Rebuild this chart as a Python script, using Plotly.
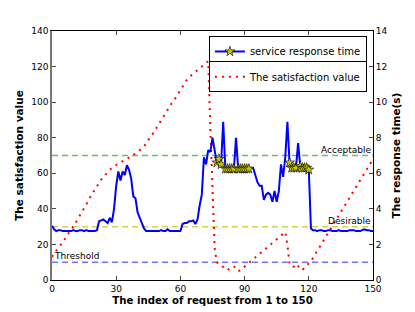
import plotly.graph_objects as go

# index of request
idx = list(range(0, 151))

# service response time (s), right axis
response_time = [
    3.05, 2.85, 2.75, 2.8, 2.8, 2.75, 2.75, 2.75, 2.75, 2.75,
    2.8, 2.75, 2.75, 2.8, 2.8, 2.75, 2.8, 2.75, 2.75, 2.75,
    2.75, 2.8, 3.3, 3.35, 3.4, 3.3, 3.2, 3.5, 3.25, 4.0,
    5.3, 6.1, 5.6, 6.1, 5.9, 6.45, 6.2, 5.7, 4.7, 4.6,
    3.8, 3.5, 3.2, 2.9, 2.75, 2.75, 2.75, 2.75, 2.75, 2.75,
    2.75, 2.8, 2.75, 2.75, 2.85, 2.75, 2.75, 2.75, 2.75, 2.75,
    2.75, 3.15, 3.2, 3.2, 3.3, 3.3, 3.35, 3.15, 3.4, 4.2,
    4.8, 6.9, 6.5, 7.3, 7.2, 8.0, 7.4, 6.6, 6.8, 6.5,
    8.9, 6.25, 6.25, 6.25, 6.25, 6.25, 8.0, 6.25, 6.25, 6.25,
    6.25, 6.25, 6.25, 6.3, 6.3, 5.9, 5.5, 5.3, 5.3, 4.5,
    4.8, 4.9, 4.8, 4.4, 5.0, 4.4, 5.0, 6.5, 5.8, 6.9,
    8.9, 6.6, 6.3, 6.3, 6.3, 7.7, 6.4, 6.3, 6.3, 6.3,
    6.2, 2.9, 2.8, 2.8, 2.75, 2.8, 2.8, 2.75, 2.75, 2.8,
    2.8, 2.75, 2.75, 2.75, 2.8, 2.75, 2.75, 2.75, 2.75, 2.8,
    2.8, 2.8, 2.75, 2.75, 2.75, 2.8, 2.85, 2.8, 2.8, 2.75,
    2.75,
]

# indices where the star markers are drawn
star_idx = [77, 78, 79, 81, 82, 83, 84, 85, 87, 88, 89, 90, 91, 92,
            111, 112, 113, 114, 116, 117, 118, 119, 120]
star_val = [response_time[i] for i in star_idx]

# satisfaction value, left axis
satisfaction = [
    13, 15, 16.5, 18, 19.5, 21, 23, 25, 27, 28.5,
    30, 32, 34, 36, 38, 40, 42, 44.5, 47, 49,
    51, 53, 55, 56.5, 58, 59, 60.5, 62, 63, 64,
    65, 65.5, 66, 67, 67.5, 68, 69, 69.5, 70.5, 71,
    72, 73, 74, 75, 77, 79, 80.5, 82, 84, 86,
    88, 90, 92, 94, 96, 98, 99.5, 101, 103, 105,
    107, 109, 111, 112.5, 114, 115, 116, 117, 118, 119,
    120, 121, 122, 123, 85, 45, 18, 10, 9, 8,
    7, 6, 5.5, 6.5, 7.5, 7.5, 7, 5, 5.5, 6.5,
    7.5, 8.5, 9.5, 10.5, 11.5, 12.5, 13.5, 14.5, 15.5, 16.5,
    17.5, 18.5, 19.5, 20.5, 21.5, 22.5, 23.5, 24.5, 25.5, 27,
    20, 9, 7.5, 7.5, 9, 8, 6.5, 5.5, 7, 8,
    9, 10.5, 12.5, 14.5, 16.5, 18.5, 20.5, 22.5, 24.5, 26.5,
    28, 30, 32, 34, 36, 38, 40, 42, 44, 46,
    48, 50, 52, 54, 56, 58, 60, 62, 64, 66,
    68,
]

levels = [70, 30, 10]
level_names = ["Acceptable", "Desirable", "Threshold"]
level_colors = ["rgba(0,150,0,0.6)", "rgba(191,191,0,0.7)", "rgba(0,0,255,0.55)"]

x_ticks = [0, 30, 60, 90, 120, 150]

FONT = "DejaVu Sans"

fig = go.Figure()

for lv, col in zip(levels, level_colors):
    fig.add_trace(go.Scatter(
        x=[0, 150], y=[lv, lv], mode="lines", yaxis="y",
        line=dict(color=col, width=1.5, dash="6px,4px"),
        showlegend=False, hoverinfo="skip"))

fig.add_trace(go.Scatter(
    x=idx, y=satisfaction, mode="lines", yaxis="y",
    line=dict(color="red", width=2, dash="2px,5px"),
    name="The satisfaction value", legend="legend2"))

fig.add_trace(go.Scatter(
    x=idx, y=response_time, mode="lines", yaxis="y2",
    line=dict(color="#0000ff", width=2),
    showlegend=False))

fig.add_trace(go.Scatter(
    x=star_idx, y=star_val, mode="markers", yaxis="y2",
    marker=dict(symbol="star", size=7.5, color="#c8c800",
                line=dict(color="black", width=0.6)),
    showlegend=False))

fig.add_trace(go.Scatter(
    x=[None], y=[None], mode="lines+markers", yaxis="y2",
    line=dict(color="#0000ff", width=2),
    marker=dict(symbol="star", size=7.5, color="#c8c800",
                line=dict(color="black", width=0.6)),
    name="service response time", legend="legend"))

annots = [
    dict(x=150, y=70, text="Acceptable", xanchor="right", yanchor="bottom"),
    dict(x=150, y=30, text="Desirable", xanchor="right", yanchor="bottom"),
    dict(x=0, y=10, text="Threshold", xanchor="left", yanchor="bottom"),
]
for a in annots:
    fig.add_annotation(x=a["x"], y=a["y"], xref="x", yref="y", text=a["text"],
                       showarrow=False, xanchor=a["xanchor"], yanchor=a["yanchor"],
                       yshift=-1, font=dict(family=FONT, size=9, color="black"))

fig.update_layout(
    width=415, height=312,
    margin=dict(l=52, r=42, t=31, b=32),
    paper_bgcolor="white", plot_bgcolor="white",
    font=dict(family=FONT, size=9, color="black"),
    xaxis=dict(
        range=[0, 150], tickvals=x_ticks, ticks="inside", ticklen=4,
        showline=True, linecolor="black", linewidth=1, mirror="ticks",
        showgrid=False, zeroline=False, automargin=False,
        title=dict(text="<b>The index of request from 1 to 150</b>",
                   font=dict(family=FONT, size=10.2), standoff=4),
    ),
    yaxis=dict(
        range=[0, 140], dtick=20, ticks="inside", ticklen=4,
        showline=True, linecolor="#777", linewidth=1.5,
        showgrid=False, zeroline=False, automargin=False,
        title=dict(text="<b>The satisfaction value</b>",
                   font=dict(family=FONT, size=10.5), standoff=6),
    ),
    yaxis2=dict(
        range=[0, 14], dtick=2, ticks="inside", ticklen=4, overlaying="y",
        side="right", showline=True, linecolor="black", linewidth=1,
        showgrid=False, zeroline=False, automargin=False,
        title=dict(text="<b>The response time(s)</b>",
                   font=dict(family=FONT, size=10.5), standoff=6),
    ),
    legend=dict(x=0.981, y=0.98, xanchor="right", yanchor="top",
                bgcolor="white", bordercolor="black", borderwidth=1,
                font=dict(family=FONT, size=10), itemwidth=30,
                tracegroupgap=0),
    legend2=dict(x=0.981, y=0.879, xanchor="right", yanchor="top",
                 bgcolor="white", bordercolor="black", borderwidth=1,
                 font=dict(family=FONT, size=10), itemwidth=30,
                 tracegroupgap=0),
)

fig.write_html("out.html",
               config={"displayModeBar": False},
               post_script="document.body.style.margin='0';document.body.style.padding='0';")
